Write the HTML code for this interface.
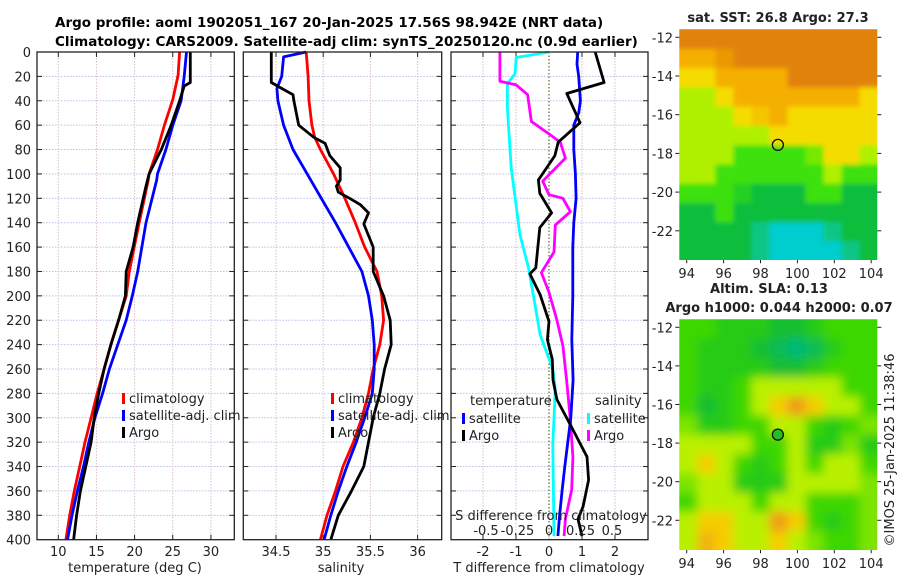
<!DOCTYPE html>
<html><head><meta charset="utf-8"><style>
html,body{margin:0;padding:0;background:#fff;}
svg{display:block;font-family:"DejaVu Sans","Liberation Sans",sans-serif;}
</style></head><body>
<svg id="fig" width="900" height="580" viewBox="0 0 900 580" xmlns="http://www.w3.org/2000/svg">
<defs>
<filter id="blur1" filterUnits="userSpaceOnUse" x="660" y="10" width="240" height="270"><feGaussianBlur stdDeviation="2.5"/></filter>
<filter id="blur2" filterUnits="userSpaceOnUse" x="660" y="300" width="240" height="270"><feGaussianBlur stdDeviation="5"/></filter>
<clipPath id="clipTop"><rect x="679.3" y="29.3" width="198" height="230.7"/></clipPath>
<clipPath id="clipBot"><rect x="679.3" y="319.3" width="198" height="230.7"/></clipPath>
</defs>
<text x="55" y="27" font-size="13.5" font-weight="bold">Argo profile: aoml 1902051_167 20-Jan-2025 17.56S 98.942E (NRT data)</text>
<text x="55" y="46" font-size="13.5" font-weight="bold">Climatology: CARS2009. Satellite-adj clim: synTS_20250120.nc (0.9d earlier)</text>
<g id="g1"></g>
<g id="g2"></g>
<g id="g3"></g>
<g id="g4"></g>
<g id="g5"></g>
<text transform="translate(894,450) rotate(-90)" text-anchor="middle" font-size="13" fill="#222">©IMOS 25-Jan-2025 11:38:46</text>
</svg>
<script>
// ---------- data ----------
const depthTicks = [0,20,40,60,80,100,120,140,160,180,200,220,240,260,280,300,320,340,360,380,400];
const tTicks = [10,15,20,25,30];
const sTicks = [34.5,35,35.5,36];
const dTTicks = [-2,-1,0,1,2];
const dSTicks = [-0.5,-0.25,0,0.25,0.5];
const dSTickLabels = ["-0.5","-0.25","0","0.25","0.5"];

const tClimDepth = [0,19,39,60,80,100,105,140,180,200,220,240,260,280,300,320,340,360,380,400];
const tClim      = [25.9,25.7,25.0,23.9,23.0,21.9,21.8,20.6,19.3,18.9,17.9,16.9,16.0,15.1,14.3,13.5,12.8,12.1,11.5,11.0];
const tSatDepth  = [0,20,40,60,80,100,105,140,180,200,220,240,260,280,300,320,340,360,380,400];
const tSat       = [26.8,26.5,26.1,25.0,24.1,23.0,22.9,21.5,20.4,19.7,18.9,17.8,16.7,15.8,14.8,14.0,13.3,12.5,11.8,11.2];
const tArgoDepth = [0,25,28,40,60,80,100,110,140,160,180,200,220,240,260,280,300,320,340,360,380,400];
const tArgo      = [27.3,27.3,26.5,25.9,24.8,23.5,21.9,21.5,20.4,19.8,18.9,18.8,17.9,16.9,16.0,15.3,14.7,14.3,13.6,12.9,12.4,12.0];

const sClimDepth = [0,20,40,60,70,80,100,120,140,160,180,200,220,240,260,280,300,320,340,360,380,400];
const sClim      = [34.82,34.84,34.85,34.88,34.91,34.97,35.11,35.23,35.34,35.44,35.57,35.62,35.64,35.60,35.53,35.48,35.41,35.32,35.21,35.13,35.04,34.97];
const sSatDepth  = [0,4,20,30,40,60,80,100,120,140,160,180,200,220,240,260,280,300,320,340,360,380,400];
const sSat       = [34.82,34.58,34.56,34.51,34.52,34.58,34.68,34.83,34.98,35.13,35.27,35.41,35.48,35.52,35.54,35.54,35.52,35.44,35.35,35.25,35.16,35.08,35.01];
const sArgoDepth = [0,25,29,35,40,60,70,75,85,95,105,110,115,120,125,132,141,160,180,200,220,240,260,280,300,320,340,360,380,400];
const sArgo      = [34.45,34.45,34.54,34.68,34.69,34.74,34.9,35.02,35.07,35.18,35.18,35.14,35.16,35.28,35.39,35.48,35.43,35.53,35.53,35.64,35.71,35.72,35.65,35.60,35.53,35.48,35.43,35.30,35.16,35.08];

const dTSatDepth = [0,10,20,40,50,60,80,100,120,140,160,200,236,269,300,318,340,359,380,397];
const dTSat      = [0.87,0.85,0.9,0.95,0.9,0.75,0.75,0.8,0.82,0.75,0.72,0.72,0.69,0.73,0.66,0.58,0.48,0.4,0.32,0.27];
const dTArgoDepth = [0,25,34,58,74,85,105,116,132,144,177,182,199,221,236,252,269,285,310,332,351,373,383,397];
const dTArgo      = [1.4,1.67,0.54,0.94,0.28,0.18,-0.32,-0.28,0.08,-0.28,-0.4,-0.58,-0.27,0,-0.05,0.1,0.12,0.24,0.73,1.15,1.2,1.03,0.88,1.0];
const dSSatDepth = [0,4.5,18,26,46,95,150,178,232,260,277,322,397];
const dSSat      = [0.0,-0.26,-0.27,-0.33,-0.33,-0.3,-0.23,-0.16,-0.07,0.03,0.05,0.03,0.04];
const dSArgoDepth = [0,24,27,35,57,68,74,87,106,117,120,131,142,164,181,197,219,241,269,302,332,359,383,397];
const dSArgo      = [-0.39,-0.39,-0.26,-0.17,-0.14,0.01,0.09,0.13,-0.05,0.0,0.11,0.17,0.05,0.04,-0.06,0.0,0.06,0.11,0.14,0.17,0.19,0.18,0.13,0.12];

const lonTicks = [94,96,98,100,102,104];
const latTicks = [-12,-14,-16,-18,-20,-22];
const sstGrid = [
 [6,6,6,6,6,6,6,6,6,6,6],
 [5,5,5.5,6,6,6,6,6,6,6,6],
 [4,4,5,5,5,5,6,6,6,6,6],
 [3,3,4,5,5,5,5,5,5,5,4],
 [3,3,3,4,4.5,5,4,4,4,4,4],
 [3,3,3,3,3,4,4,4,4,4,4],
 [3,3,3,2,2,2,2,2.5,4,4,3],
 [3,3,2,2,2,2,2,2,3,2,2],
 [2,2,2,1.5,1,1,1,2,2,1,1],
 [1,1,2,1,1,1,1,1,1,1,1],
 [1,1,1,1,0.5,0,0,0,0.5,1,1],
 [1,1,1,1,0.5,0,0,0,0,0.5,1]];
const slaGrid = [
 [2,2,1.5,1.5,1.5,1,1,1.5,2,2,2],
 [2,1.5,1.5,1.5,1,0.5,0,0.5,1.5,2,2],
 [2,1.5,1.5,1.5,1.5,1,1,1.5,2,2,2],
 [2,1.5,1.5,2,3,3,3,3,3,2,2],
 [2,1,1.5,2,3,4,5,4,3,3,2],
 [2.5,1.5,1.5,2,2,3,3,2,1.5,2,2.5],
 [3,3,3,3,2,2,3,1.5,1.5,2.5,1.5],
 [3,4,3,2,1.5,2,3,2,3,3,2],
 [2.5,3,3,1.5,1.5,1.5,3,3,3,3,2.5],
 [2,3,3,3,2,3,3,2,2,2,2.5],
 [3,4,4,3,3,5,4,2,1.5,2,2.5],
 [3,4.5,4,3,3,4,3,2.5,2,2,2.5]];
const argoLon = 98.942, argoLat = -17.56;

// ---------- helpers ----------
const NS="http://www.w3.org/2000/svg";
function mk(tag, attrs, parent){const e=document.createElementNS(NS,tag);for(const k in attrs)e.setAttribute(k,attrs[k]);parent.appendChild(e);return e;}
const TOP=52, BOT=539.7;
const yD = d => TOP + d*(BOT-TOP)/400;
const xT = t => 58.3 + (t-10)*7.63;
const xS = s => 276 + (s-34.5)*94.4;
const xDT = v => 549 + v*33;
const xDS = v => 549 + v*126;
const xLon = l => 686.7 + (l-94)*18.45;
const yLatA = l => 37.3 + (-12-l)*19.35;
const yLatB = l => 327.3 + (-12-l)*19.3;

function panel(g, x0, x1, xs, xf){
  for(const d of depthTicks){ if(d===0||d===400) continue;
    const l=mk('line',{x1:x0,x2:x1,y1:yD(d),y2:yD(d),stroke:'#b9c0e6','stroke-width':1,'stroke-dasharray':'1.5,1.5'},g);
     
    for(const xx of [x0,x1]){ const t=mk('line',{x1:xx,x2:xx+(xx===x0?5:-5),y1:yD(d),y2:yD(d),stroke:'#222','stroke-width':1},g);
       }
  }
  for(const v of xs){ const X=xf(v);
    const l=mk('line',{x1:X,x2:X,y1:TOP,y2:BOT,stroke:'#d8c0c8','stroke-width':1,'stroke-dasharray':'1.5,1.5'},g);
     
    for(const yy of [TOP,BOT]){ const t=mk('line',{x1:X,x2:X,y1:yy,y2:yy+(yy===TOP?5:-5),stroke:'#222','stroke-width':1},g);
       }
  }
}
function frame(g,x0,x1){const r=mk('rect',{x:x0,y:TOP,width:x1-x0,height:BOT-TOP,fill:'none',stroke:'#222','stroke-width':1.3},g);
   }
function line(g, depths, vals, xf, color, name){
  const pts=depths.map((d,i)=>xf(vals[i]).toFixed(1)+','+yD(d).toFixed(1)).join(' ');
  const p=mk('polyline',{points:pts,fill:'none',stroke:color,'stroke-width':2.8,'stroke-linejoin':'round'},g);
   
}
function txt(g,x,y,s,attrs,name){const t=mk('text',Object.assign({x:x,y:y,'font-size':13,fill:'#222'},attrs||{}),g);t.textContent=s;
    return t;}
function legItem(g,mx,y,color,label,name){
  const r=mk('rect',{x:mx,y:y-9,width:3,height:11,fill:color},g);
   
  txt(g,mx+7,y+1,label,{},name);
}

// Panel 1
const g1=document.getElementById('g1');
panel(g1,37,234.3,tTicks,xT);
line(g1,tClimDepth,tClim,xT,'#ff0000','climatology-temperature-line');
line(g1,tSatDepth,tSat,xT,'#0000ff','satellite-temperature-line');
line(g1,tArgoDepth,tArgo,xT,'#000000','argo-temperature-line');
frame(g1,37,234.3);
for(const d of depthTicks) txt(g1,31,yD(d)+5,String(d),{'text-anchor':'end'},'y-tick-label');
for(const v of tTicks) txt(g1,xT(v),556,String(v),{'text-anchor':'middle'},'x-tick-label');
txt(g1,135,572,'temperature (deg C)',{'text-anchor':'middle'},'x-axis-title-temperature');
legItem(g1,122,402,'#ff0000','climatology','legend-climatology');
legItem(g1,122,419,'#0000ff','satellite-adj. clim','legend-satellite');
legItem(g1,122,436,'#000000','Argo','legend-argo');

// Panel 2
const g2=document.getElementById('g2');
panel(g2,243.3,441.7,sTicks,xS);
line(g2,sClimDepth,sClim,xS,'#ff0000','climatology-salinity-line');
line(g2,sSatDepth,sSat,xS,'#0000ff','satellite-salinity-line');
line(g2,sArgoDepth,sArgo,xS,'#000000','argo-salinity-line');
legItem(g2,331,402,'#ff0000','climatology','legend-climatology');
legItem(g2,331,419,'#0000ff','satellite-adj. clim','legend-satellite');
legItem(g2,331,436,'#000000','Argo','legend-argo');
frame(g2,243.3,441.7);
for(const v of sTicks) txt(g2,xS(v),556,String(v),{'text-anchor':'middle'},'x-tick-label');
txt(g2,341,572,'salinity',{'text-anchor':'middle'},'x-axis-title-salinity');

// Panel 3
const g3=document.getElementById('g3');
panel(g3,451,648,dTTicks.filter(v=>v!==0),xDT);
const z=mk('line',{x1:xDT(0),x2:xDT(0),y1:TOP,y2:BOT,stroke:'#556b2f','stroke-width':1.2,'stroke-dasharray':'1.5,2'},g3);
 
line(g3,dSSatDepth,dSSat,xDS,'#00ffff','satellite-salinity-diff-line');
line(g3,dSArgoDepth,dSArgo,xDS,'#ff00ff','argo-salinity-diff-line');
line(g3,dTSatDepth,dTSat,xDT,'#0000ff','satellite-temperature-diff-line');
line(g3,dTArgoDepth,dTArgo,xDT,'#000000','argo-temperature-diff-line');
txt(g3,470,405,'temperature',{},'legend-title-temperature');
legItem(g3,462,422,'#0000ff','satellite','legend-temp-satellite');
legItem(g3,462,439,'#000000','Argo','legend-temp-argo');
txt(g3,595,405,'salinity',{},'legend-title-salinity');
legItem(g3,587,422,'#00ffff','satellite','legend-sal-satellite');
legItem(g3,587,439,'#ff00ff','Argo','legend-sal-argo');
txt(g3,551,520,'S difference from climatology',{'text-anchor':'middle'},'s-axis-title');
dSTicks.forEach((v,i)=>txt(g3,xDS(v),535,dSTickLabels[i],{'text-anchor':'middle'},'s-tick-label'));
frame(g3,451,648);
for(const v of dTTicks) txt(g3,xDT(v),556,String(v),{'text-anchor':'middle'},'t-tick-label');
txt(g3,549,572,'T difference from climatology',{'text-anchor':'middle'},'t-axis-title');

// Maps
function lerpC(stops,v){
  const i=Math.max(0,Math.min(stops.length-2,Math.floor(v))); const f=Math.max(0,Math.min(1,v-i));
  const a=stops[i],b=stops[i+1];
  return 'rgb('+[0,1,2].map(k=>Math.round(a[k]+(b[k]-a[k])*f)).join(',')+')';
}
const sstStops=[[0,205,205],[16,190,60],[60,225,10],[175,240,0],[245,220,0],[245,175,0],[225,130,10]];
const slaStops=[[0,185,120],[20,190,50],[60,215,0],[185,240,0],[245,205,0],[240,155,20]];
function drawMap(g,grid,stops,yLat,top,clip,blur){
  const lon0=93.6, dLon=(104.35-93.6)/11, lat0=-11.6, dLat=(23.55-11.6)/12;
  const nR=grid.length, nC=grid[0].length;
  const cg=mk('g',{'clip-path':'url(#'+clip+')'},g);
  const bg=mk('g',{filter:'url(#'+blur+')'},cg);
  grid.forEach((row,r)=>row.forEach((v,c)=>{
    const x=xLon(lon0+c*dLon), y=yLat(lat0-r*dLat);
    const x2=xLon(lon0+(c+1)*dLon), y2=yLat(lat0-(r+1)*dLat);
    const padL=c===0?12:0, padR=c===nC-1?12:0.5, padT=r===0?12:0, padB=r===nR-1?12:0.5;
    const rc=mk('rect',{x:x-padL,y:y-padT,width:x2-x+padL+padR,height:y2-y+padT+padB,fill:lerpC(stops,v)},bg);
     
  }));
  for(const l of latTicks){ txt(g,673,yLat(l)+5,String(l),{'text-anchor':'end'},'lat-tick-label');
    for(const xx of [679.3,877.3]){const t=mk('line',{x1:xx,x2:xx+(xx<700?-4:4),y1:yLat(l),y2:yLat(l),stroke:'#222'},g);
       }}
  for(const l of lonTicks){ txt(g,xLon(l),top+230.7+18,String(l),{'text-anchor':'middle'},'lon-tick-label');
    const t=mk('line',{x1:xLon(l),x2:xLon(l),y1:top+230.7,y2:top+234,stroke:'#222'},g);
     }
  const c=mk('circle',{cx:xLon(argoLon),cy:yLat(argoLat),r:5.5,fill:blur==='blur2'?'#20c020':'none',stroke:'#111','stroke-width':1.3},g);
   
}
const g4=document.getElementById('g4'), g5=document.getElementById('g5');
drawMap(g4,sstGrid,sstStops,yLatA,29.3,'clipTop','blur1');
txt(g4,778,22,'sat. SST: 26.8 Argo: 27.3',{'text-anchor':'middle','font-weight':'bold'},'sst-map-title');
drawMap(g5,slaGrid,slaStops,yLatB,319.3,'clipBot','blur2');
txt(g5,769,293,'Altim. SLA: 0.13',{'text-anchor':'middle','font-weight':'bold'},'sla-map-title');
txt(g5,779,312,'Argo h1000: 0.044 h2000: 0.07',{'text-anchor':'middle','font-weight':'bold'},'sla-map-subtitle');
</script>
</body></html>
